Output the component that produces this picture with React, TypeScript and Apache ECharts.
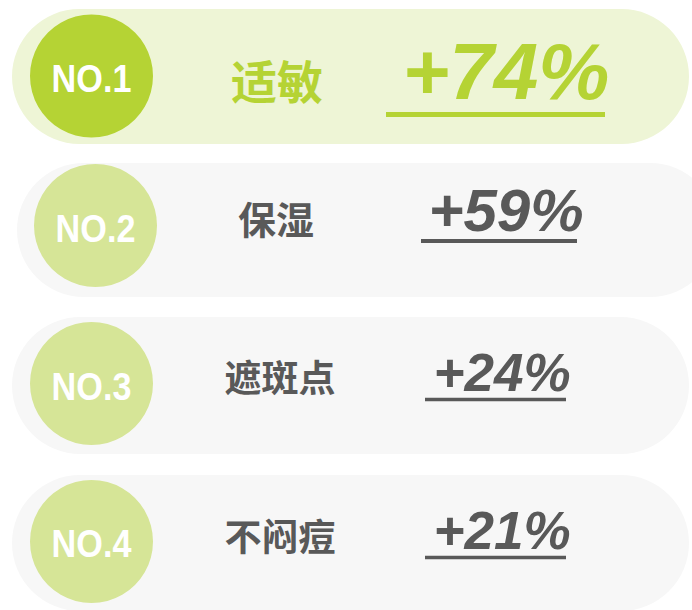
import React, { useEffect, useRef } from "react";
import * as echarts from "echarts";

const ranks = ["NO.1", "NO.2", "NO.3", "NO.4"];
const categories = ["适敏", "保湿", "遮斑点", "不闷痘"];
const values = [74, 59, 24, 21];

// per-row layout (offsets relative to the row centre)
const LAYOUT = [
  { pillX: 12, pillW: 677, pillDy: -68.5, pillH: 135, cx: 91.5, cdy: -1.5, r: 61.5, noDy: 1, noSize: 38,
    labX: 277, labDy: 1.5, labSize: 46, pctX: 506, pctDy: -6, pctSize: 80, ulX1: 386, ulX2: 605, ulDy: 37, ulW: 5,
    pill: "#eef5d6", circle: "#b5d334", text: "#b5d334" },
  { pillX: 17, pillW: 700, pillDy: -69.5, pillH: 134, cx: 95.5, cdy: -7, r: 61.5, noDy: -4, noSize: 38,
    labX: 276, labDy: -15.5, labSize: 38, pctX: 506, pctDy: -22, pctSize: 60, ulX1: 421, ulX2: 577, ulDy: 8.5, ulW: 4,
    pill: "#f7f7f7", circle: "#d6e597", text: "#595959" },
  { pillX: 12, pillW: 677, pillDy: -70.5, pillH: 137, cx: 91.5, cdy: -4, r: 61.5, noDy: -1, noSize: 38,
    labX: 280, labDy: -11.5, labSize: 37, pctX: 502, pctDy: -15, pctSize: 53, ulX1: 425, ulX2: 566, ulDy: 12, ulW: 3.5,
    pill: "#f7f7f7", circle: "#d6e597", text: "#595959" },
  { pillX: 12, pillW: 677, pillDy: -67.5, pillH: 136, cx: 91.5, cdy: -1, r: 61.5, noDy: 1.5, noSize: 38,
    labX: 280, labDy: -7.5, labSize: 37, pctX: 502, pctDy: -12.5, pctSize: 53, ulX1: 425, ulX2: 566, ulDy: 15, ulW: 3.5,
    pill: "#f7f7f7", circle: "#d6e597", text: "#595959" },
];

const LATIN = '"Liberation Sans", Arial, sans-serif';
const CJK = '"Noto Sans CJK SC", sans-serif';

export default function App() {
  const ref = useRef<HTMLDivElement>(null);
  useEffect(() => {
    if (!ref.current) return;
    const chart = echarts.init(ref.current, null, { renderer: "svg" });
    const option: any = {
      animation: false,
      backgroundColor: "#ffffff",
      grid: { left: 0, right: 0, top: 0, bottom: 0 },
      xAxis: { type: "value", min: 0, max: 692, show: false },
      yAxis: { type: "value", inverse: true, min: -0.5, max: 610 / 155 - 0.5, show: false },
      series: [
        {
          type: "custom",
          clip: false,
          data: values.map((v, i) => [v, i]),
          encode: { x: 0, y: 1 },
          renderItem: (params: any, api: any) => {
            const i = api.value(1);
            const L = LAYOUT[i];
            const c = api.coord([0, i])[1];
            const color = L.text;
            return {
              type: "group",
              children: [
                {
                  type: "rect",
                  shape: { x: L.pillX, y: c + L.pillDy, width: L.pillW, height: L.pillH, r: L.pillH / 2 },
                  style: { fill: L.pill },
                },
                {
                  type: "circle",
                  shape: { cx: L.cx, cy: c + L.cdy, r: L.r },
                  style: { fill: L.circle },
                },
                {
                  type: "text",
                  x: L.cx,
                  y: c + L.noDy,
                  scaleX: 0.9,
                  style: {
                    text: ranks[i], x: 0, y: 0, align: "center", verticalAlign: "middle",
                    fill: "#ffffff", font: `bold ${L.noSize}px ${LATIN}`,
                  },
                },
                {
                  type: "text",
                  style: {
                    text: categories[i], x: L.labX, y: c + L.labDy, align: "center", verticalAlign: "middle",
                    fill: color, font: `bold ${L.labSize}px ${CJK}`,
                  },
                },
                {
                  type: "text",
                  style: {
                    text: "+" + api.value(0) + "%", x: L.pctX, y: c + L.pctDy, align: "center", verticalAlign: "middle",
                    fill: color, font: `italic bold ${L.pctSize}px ${LATIN}`,
                  },
                },
                {
                  type: "line",
                  shape: { x1: L.ulX1, y1: c + L.ulDy, x2: L.ulX2, y2: c + L.ulDy },
                  style: { stroke: color, lineWidth: L.ulW },
                },
              ],
            };
          },
        },
      ],
    };
    chart.setOption(option);
    return () => chart.dispose();
  }, []);
  return (
    <div
      ref={ref}
      style={{ position: "fixed", left: 0, top: 0, width: 692, height: 610 }}
    />
  );
}
